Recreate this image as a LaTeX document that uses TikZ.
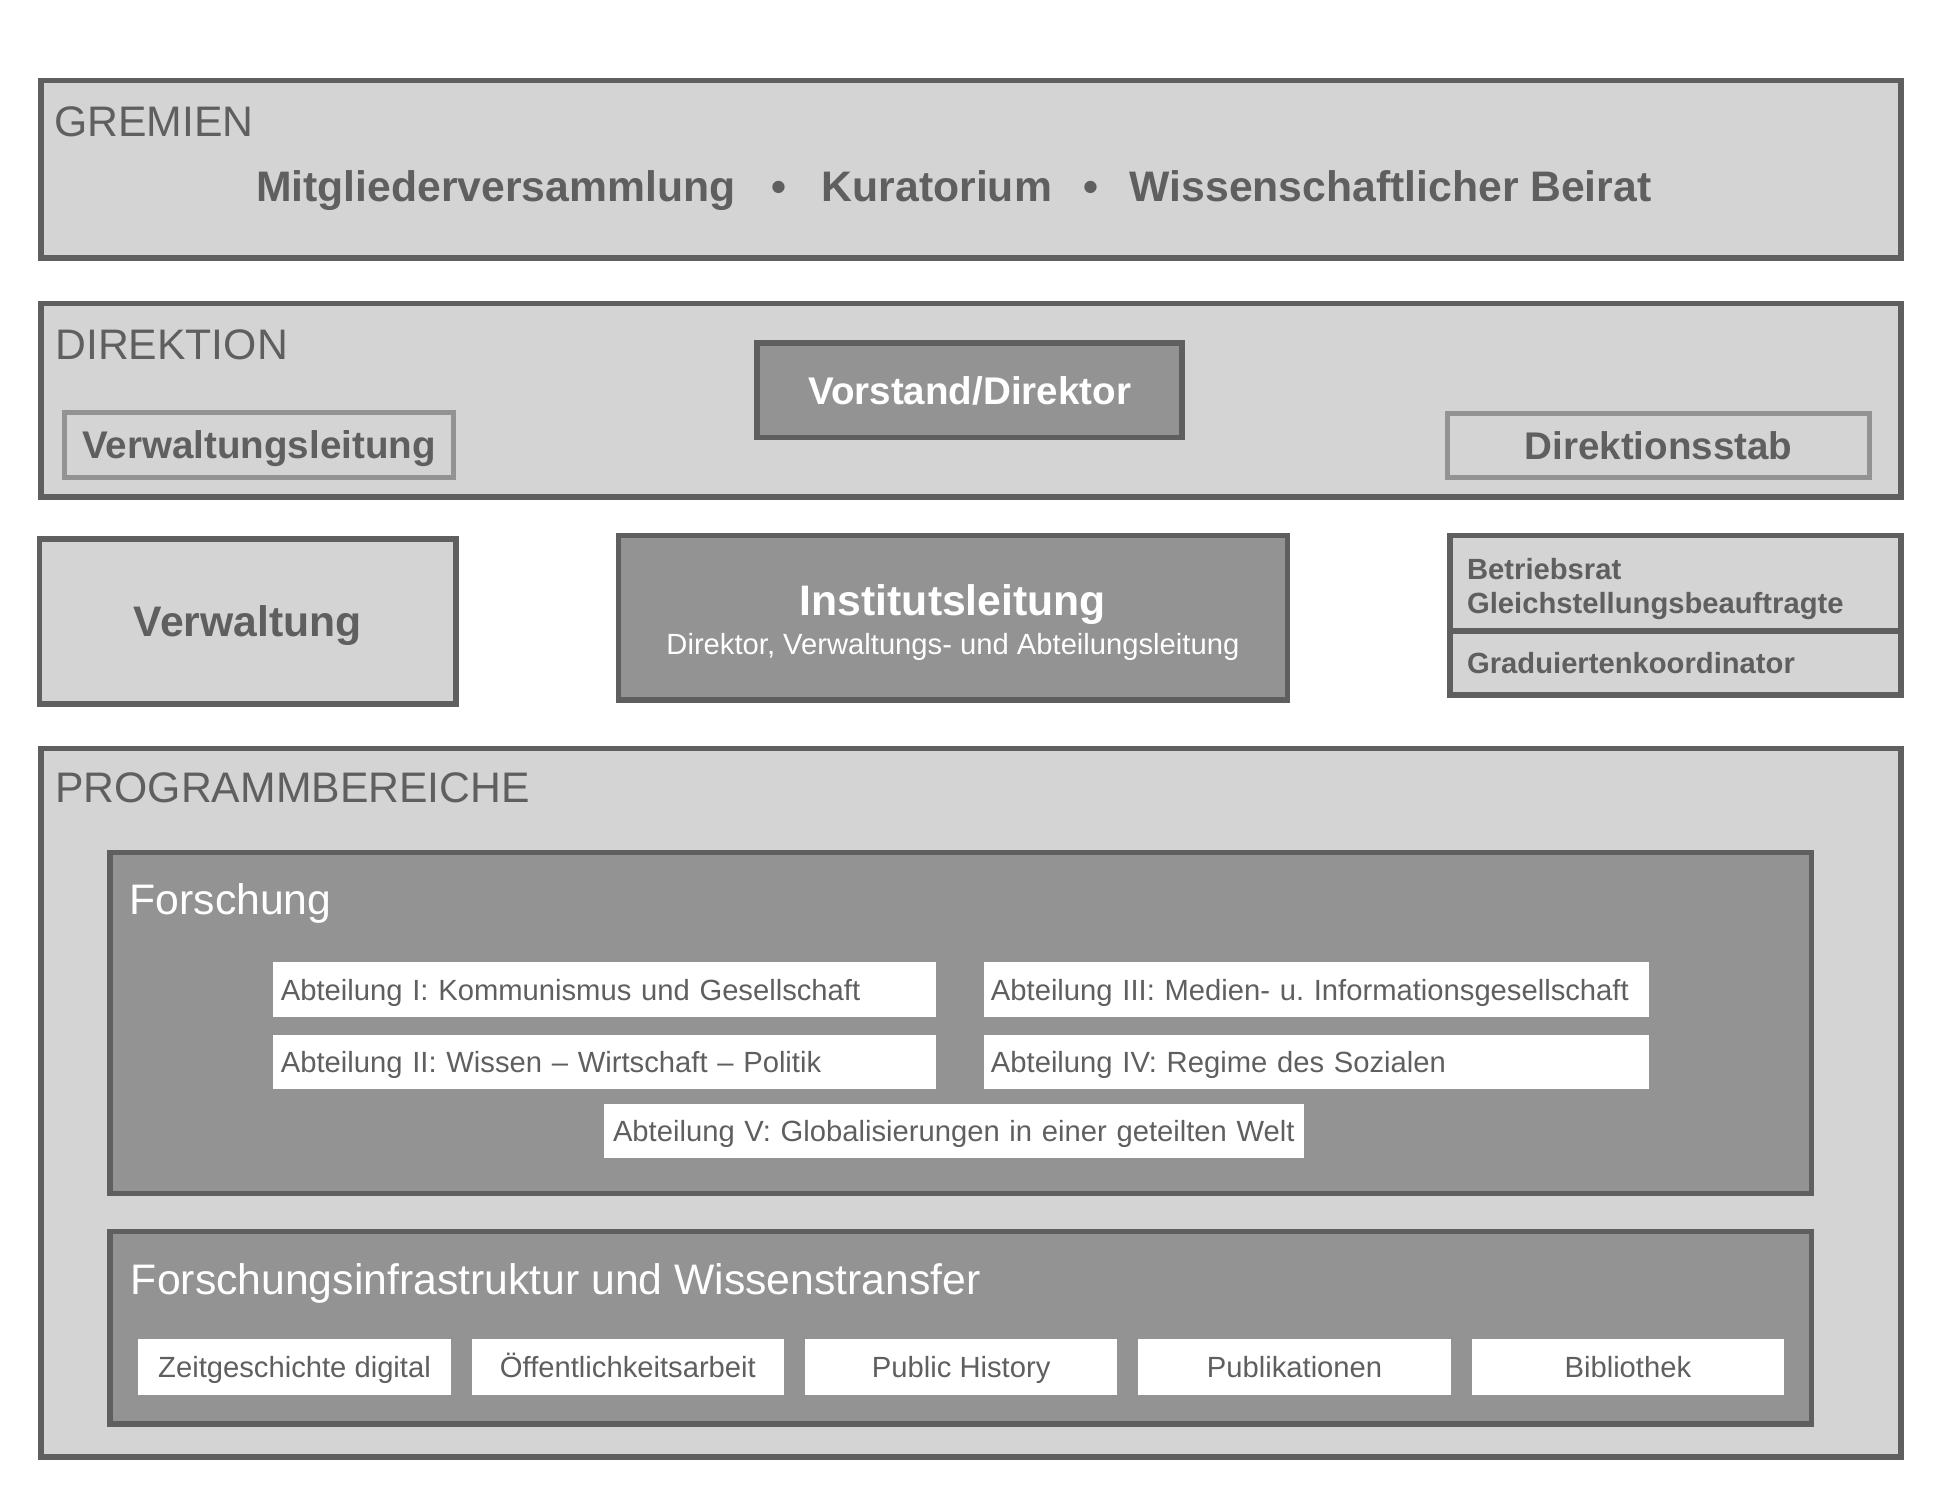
\documentclass[tikz,border=0pt]{standalone}
\usepackage{fontspec}
\setmainfont{Liberation Sans}
\usepackage{xcolor}
\usepackage{tikz}
\usetikzlibrary{positioning}
\definecolor{orgdark}{HTML}{5F5F5F}
\definecolor{orgmid}{HTML}{939393}
\definecolor{orglight}{HTML}{D4D4D4}
\newlength{\unitpx}
\setlength{\unitpx}{0.01cm}
\newcommand{\fbig}{\fontsize{9.8pt}{11.8pt}\selectfont}
\newcommand{\fmid}{\fontsize{8.85pt}{10.6pt}\selectfont}
\newcommand{\fsmall}{\fontsize{6.7pt}{7.7pt}\selectfont}

\begin{document}
\begin{tikzpicture}[
  x=0.01cm, y=-0.01cm,
  panel/.style={rectangle, draw=orgdark, fill=orglight, line width=4.5\unitpx,
    inner sep=0pt, outer sep=0pt},
  block/.style={panel, fill=orgmid},
  subbox/.style={rectangle, draw=orgmid, fill=orglight, line width=4\unitpx,
    inner sep=0pt, font=\fmid\bfseries, text=orgdark, text height=6.34pt, text depth=0pt},
  unit/.style={rectangle, fill=white, inner sep=0pt, font=\fsmall, text=orgdark,
    text height=4.8pt, text depth=0pt},
  abt/.style={unit, anchor=north west, minimum height=44\unitpx,
    inner xsep=6\unitpx, text width=#1, align=left},
  heading/.style={anchor=base west, inner sep=0pt, font=\fbig, text=orgdark},
  node distance=13\unitpx,
]
  \useasboundingbox (0,0) rectangle (1568,1210);

  \node[panel, anchor=north west, minimum width=1501\unitpx, minimum height=143\unitpx] (gremien) at (33,65) {};
  \node[heading] (gremienlbl) at (43,110) {GREMIEN};
  \node[anchor=base west, inner sep=0pt, font=\fbig\bfseries, text=orgdark] (gremienlist) at (206,163)
    {Mitgliederversammlung\hspace{8.2pt}•\hspace{8.2pt}Kuratorium\hspace{7.2pt}•\hspace{7.2pt}Wissenschaftlicher Beirat};

  \node[panel, anchor=north west, minimum width=1501\unitpx, minimum height=156\unitpx] (direktion) at (33,245) {};
  \node[heading] (direktionlbl) at (44,290) {DIREKTION};
  \node[block, minimum width=343\unitpx, minimum height=76\unitpx, font=\fmid\bfseries, text=white,
    text height=6.34pt, text depth=0pt] (vorstand) at (782.5,315) {Vorstand/Direktor};
  \node[subbox, minimum width=314\unitpx, minimum height=52\unitpx] (vwleitung) at (209,359) {Verwaltungsleitung};
  \node[subbox, minimum width=341\unitpx, minimum height=51\unitpx] (stab) at (1338.5,359.5) {Direktionsstab};

  \node[panel, minimum width=336\unitpx, minimum height=133\unitpx, font=\fbig\bfseries, text=orgdark,
    text height=7pt, text depth=0pt] (verwaltung) at (200,501.5) {Verwaltung};
  \node[block, minimum width=540\unitpx, minimum height=133\unitpx] (leitung) at (769,498.5) {};
  \node[anchor=base, inner sep=0pt, font=\fbig\bfseries, text=white] (leitungtitle) at ([yshift=1.5\unitpx]leitung.center) {Institutsleitung};
  \node[anchor=base, inner sep=0pt, font=\fsmall, text=white] (leitungsub) at ([yshift=-29.5\unitpx]leitung.center) {Direktor, Verwaltungs- und Abteilungsleitung};

  \node[panel, anchor=north west, minimum width=364\unitpx, minimum height=77\unitpx, inner xsep=14\unitpx,
    text width=336\unitpx, align=left, font=\fsmall\bfseries, text=orgdark, text height=4.9pt, text depth=6.3pt] (rat) at (1170,432)
    {Betriebsrat\\Gleichstellungsbeauftragte};
  \node[panel, below=0pt of rat, minimum width=364\unitpx, minimum height=52\unitpx, inner xsep=14\unitpx,
    text width=336\unitpx, align=left, font=\fsmall\bfseries, text=orgdark, text height=4.8pt, text depth=0pt] (grad)
    {Graduiertenkoordinator};

  \node[panel, anchor=north west, minimum width=1501\unitpx, minimum height=572\unitpx] (programm) at (33,604) {};
  \node[heading] (programmlbl) at (44,648) {PROGRAMMBEREICHE};

  \node[block, anchor=north west, minimum width=1373\unitpx, minimum height=275\unitpx] (forschung) at (89,688) {};
  \node[heading, text=white] (forschunglbl) at (104,738) {Forschung};
  \node[abt=523\unitpx] (abt1) at (220,776) {Abteilung I: Kommunismus und Gesellschaft};
  \node[abt=523\unitpx, below=of abt1] (abt2) {Abteilung II: Wissen – Wirtschaft – Politik};
  \node[abt=525\unitpx] (abt3) at (793,776) {Abteilung III: Medien- u.\ Informationsgesellschaft};
  \node[abt=525\unitpx, below=of abt3] (abt4) {Abteilung IV: Regime des Sozialen};
  \node[abt=551\unitpx, inner xsep=7\unitpx] (abt5) at (487,890) {Abteilung V: Globalisierungen in einer geteilten Welt};

  \node[block, anchor=north west, minimum width=1373\unitpx, minimum height=155\unitpx] (infra) at (89,994) {};
  \node[heading, text=white] (infralbl) at (105,1045) {Forschungsinfrastruktur und Wissenstransfer};
  \foreach \name/\label [count=\i from 0] in {zeit/Zeitgeschichte digital, oeff/Öffentlichkeitsarbeit,
      history/Public History, publ/Publikationen, bib/Bibliothek}
    \node[unit, anchor=north west, minimum width=252\unitpx, minimum height=45\unitpx] (\name) at (111+269*\i,1080) {\label};
\end{tikzpicture}
\end{document}
